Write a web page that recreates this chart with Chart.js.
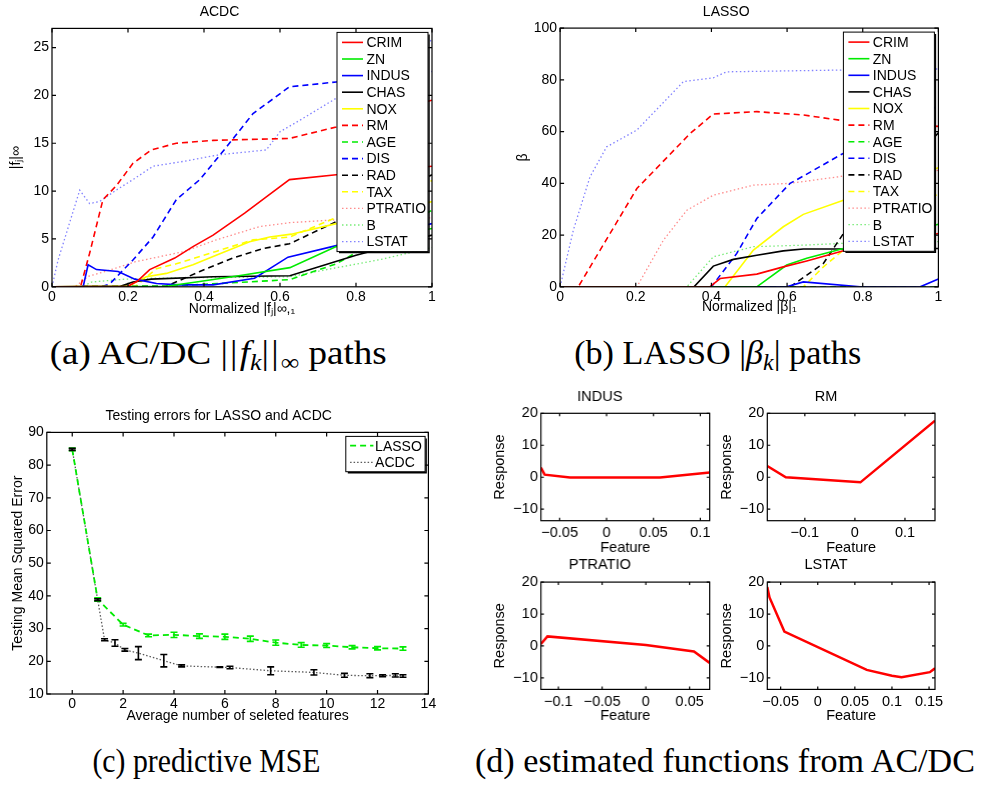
<!DOCTYPE html>
<html>
<head>
<meta charset="utf-8">
<script src="https://cdn.jsdelivr.net/npm/chart.js@4.4.1/dist/chart.umd.min.js"></script>
<style>
body { margin: 0; background: #fff; width: 982px; height: 785px; position: relative; overflow: hidden; }
.panel { position: absolute; }
.cap { position: absolute; font-family: 'Liberation Serif', 'DejaVu Serif', serif; font-size: 33px; line-height: 1; color: #000; text-align: center; white-space: nowrap; }
.cap span.t { display: inline-block; transform-origin: 50% 50%; }
.cap sub { font-size: 0.7em; vertical-align: -0.28em; line-height: 0; }
.cap .bars { letter-spacing: 2px; }
</style>
</head>
<body>
<div class="panel"><canvas id="cA"></canvas></div>
<div class="panel"><canvas id="cB"></canvas></div>
<div class="panel"><canvas id="cC"></canvas></div>
<div class="panel"><canvas id="cD1"></canvas></div>
<div class="panel"><canvas id="cD2"></canvas></div>
<div class="panel"><canvas id="cD3"></canvas></div>
<div class="panel"><canvas id="cD4"></canvas></div>

<div class="cap" data-w="337" style="left:18px; top:337px; width:400px;"><span class="t">(a) AC/DC <span class="bars">||</span><i>f</i><sub><i>k</i></sub><span class="bars">||</span><sub>∞</sub> paths</span></div>
<div class="cap" data-w="287" style="left:518px; top:337px; width:400px;"><span class="t">(b) LASSO |<i>β</i><sub><i>k</i></sub>| paths</span></div>
<div class="cap" data-w="228" style="left:6px; top:745px; width:400px;"><span class="t">(c) predictive MSE</span></div>
<div class="cap" data-w="500" style="left:475px; top:745px; width:500px;"><span class="t">(d) estimated functions from AC/DC</span></div>

<script>
// ---- data ----
const features = ['CRIM', 'ZN', 'INDUS', 'CHAS', 'NOX', 'RM', 'AGE', 'DIS', 'RAD', 'TAX', 'PTRATIO', 'B', 'LSTAT'];

// (a) ACDC paths: [normalized |f|_inf,1 , |f_j|_inf]
const acdcCRIM = [[0,0],[0.2,0.05],[0.225,0.6],[0.257,1.8],[0.323,3.0],[0.371,4.2],[0.424,5.4],[0.507,7.7],[0.564,9.4],[0.625,11.2],[0.748,11.7],[1,12.6]];
const acdcZN = [[0,0],[0.3,0.05],[0.38,0.5],[0.5,1.2],[0.626,2.0],[0.748,4.2],[1,6.1]];
const acdcINDUS = [[0,0],[0.082,0],[0.095,2.3],[0.117,1.8],[0.174,1.6],[0.218,0.8],[0.275,0.35],[0.336,0.2],[0.424,0.2],[0.533,0.9],[0.621,3.1],[0.748,4.3],[1,6.6]];
const acdcCHAS = [[0,0],[0.18,0.05],[0.213,0.5],[0.261,0.8],[0.424,1.05],[0.626,1.15],[0.8,3.3],[1,5.4]];
const acdcNOX = [[0,0],[0.2,0.05],[0.248,1.05],[0.301,1.4],[0.371,2.3],[0.432,3.3],[0.52,4.7],[0.573,5.2],[0.63,5.5],[0.748,6.6],[1,8.9]];
const acdcRM = [[0,0],[0.075,0],[0.099,3.5],[0.134,9.1],[0.17,10.6],[0.213,12.9],[0.261,14.3],[0.327,15.0],[0.424,15.3],[0.625,15.5],[0.748,16.7],[1,19.5]];
const acdcAGE = [[0,0],[0.3,0.05],[0.494,0.46],[0.626,0.75],[0.748,2.4],[1,8.0]];
const acdcDIS = [[0,0],[0.13,0],[0.152,0.3],[0.213,2.8],[0.266,5.2],[0.327,9.1],[0.389,11.2],[0.459,14.6],[0.529,18.1],[0.625,20.9],[0.748,21.4],[1,22.5]];
const acdcRAD = [[0,0],[0.3,0.05],[0.389,1.6],[0.476,3.0],[0.555,4.0],[0.625,4.5],[0.748,6.8],[1,11.7]];
const acdcTAX = [[0,0],[0.22,0.05],[0.275,1.9],[0.327,2.4],[0.432,3.7],[0.529,4.9],[0.625,5.2],[0.74,7.1],[1,11.1]];
const acdcPTRATIO = [[0,0],[0.06,0],[0.096,1.1],[0.14,1.6],[0.218,2.6],[0.349,3.7],[0.432,4.9],[0.547,6.3],[0.625,6.7],[0.748,7.0],[1,7.2]];
const acdcB = [[0,0],[0.08,0],[0.104,0.5],[0.192,0.8],[0.266,0.9],[0.625,1.05],[0.75,2.0],[0.87,2.9],[1,4.1]];
const acdcLSTAT = [[0,0],[0.016,2.8],[0.073,10.1],[0.099,8.7],[0.125,8.9],[0.169,10.1],[0.213,11.2],[0.266,12.6],[0.345,13.1],[0.441,13.8],[0.564,14.3],[0.6,16.2],[0.652,17.4],[0.748,19.7],[1,25.8]];

// (b) LASSO paths: [normalized |beta|_1 , beta]
const lassoCRIM = [[0,0],[0.396,0],[0.423,3.2],[0.52,4.9],[0.59,7.7],[0.652,10],[0.749,13.9],[1,20.6]];
const lassoZN = [[0,0],[0.52,0],[0.599,8.4],[0.652,11],[0.749,14.8],[1,24.2]];
const lassoINDUS = [[0,0],[0.599,0],[0.643,1.9],[0.793,0],[0.952,0],[1,3]];
const lassoCHAS = [[0,0],[0.354,0],[0.405,8],[0.458,10.6],[0.52,12.2],[0.59,13.9],[0.643,14.6],[0.749,14.6],[1,14.8]];
const lassoNOX = [[0,0],[0.436,0],[0.511,14.2],[0.59,23.2],[0.643,28],[0.749,33.5],[1,46]];
const lassoRM = [[0,0],[0.048,0],[0.203,38],[0.344,59.3],[0.405,66.8],[0.52,67.7],[0.643,66.4],[0.749,64.2],[1,62]];
const lassoAGE = [[0,0],[1,0]];
const lassoDIS = [[0,0],[0.4,0],[0.467,12.9],[0.52,26.4],[0.608,40],[0.643,42.8],[0.74,50.9],[1,70]];
const lassoRAD = [[0,0],[0.608,0],[0.696,9],[0.749,20.6],[1,59.5]];
const lassoTAX = [[0,0],[0.643,0],[0.696,7.7],[0.749,14.2],[1,36]];
const lassoPTRATIO = [[0,0],[0.203,0],[0.273,18],[0.335,29.6],[0.405,35.4],[0.511,39.3],[0.608,40],[0.749,42.8],[1,45]];
const lassoB = [[0,0],[0.335,0],[0.405,11.6],[0.511,15.5],[0.643,16.1],[0.749,16.8],[1,17.5]];
const lassoLSTAT = [[0,0],[0.035,21.9],[0.079,42.5],[0.123,54.1],[0.203,60.6],[0.326,79.3],[0.405,80.8],[0.44,83.1],[0.749,83.8],[1,84.2]];

// (c) testing MSE
const mseLassoX = [0, 1, 2, 3, 4, 5, 6, 7, 8, 9, 10, 11, 12, 13];
const mseLassoY = [84.8, 38.9, 31.2, 27.9, 28.1, 27.7, 27.5, 26.9, 25.7, 25.0, 24.8, 24.3, 24.0, 23.9];
const mseLassoErr = [0.4, 0.5, 0.4, 0.4, 0.8, 0.7, 0.8, 0.8, 0.8, 0.7, 0.6, 0.5, 0.5, 0.5];
const mseAcdcX = [0, 1, 1.27, 1.68, 2.07, 2.6, 3.6, 4.3, 5.8, 6.2, 7.8, 9.5, 10.7, 11.7, 12.2, 12.7, 13.0];
const mseAcdcY = [84.8, 38.8, 26.6, 25.6, 23.5, 22.5, 20.2, 18.6, 18.2, 18.1, 17.1, 16.6, 15.7, 15.6, 15.6, 15.7, 15.5];
const mseAcdcErr = [0.3, 0.3, 0.3, 1.0, 0.4, 2.0, 1.9, 0.3, 0.1, 0.4, 1.2, 0.8, 0.6, 0.6, 0.3, 0.5, 0.4];

// (d) estimated component functions
const indusX = [-0.07, -0.066, -0.039, 0.057, 0.11];
const indusY = [3.0, 0.8, -0.1, -0.1, 1.5];
const rmX = [-0.175, -0.138, 0.011, 0.16];
const rmY = [3.5, 0, -1.6, 17.7];
const ptratioX = [-0.12, -0.1125, 0, 0.055, 0.073];
const ptratioY = [0.6, 3.0, 0.3, -1.7, -5.3];
const lstatX = [-0.068, -0.065, -0.045, 0.066, 0.1, 0.113, 0.151, 0.158];
const lstatY = [18.5, 15.2, 4.5, -7.5, -9.3, -9.8, -8.2, -7.0];

// tick values
const pathXTicks = [0, 0.2, 0.4, 0.6, 0.8, 1];
const acdcYTicks = [0, 5, 10, 15, 20, 25];
const lassoYTicks = [0, 20, 40, 60, 80, 100];
const mseXTicks = [0, 2, 4, 6, 8, 10, 12, 14];
const mseYTicks = [10, 20, 30, 40, 50, 60, 70, 80, 90];
const respYTicks = [-10, 0, 10, 20];
const indusXTicks = [-0.05, 0, 0.05, 0.1];
const rmXTicks = [-0.1, 0, 0.1];
const ptratioXTicks = [-0.1, -0.05, 0, 0.05];
const lstatXTicks = [-0.05, 0, 0.05, 0.1, 0.15];

// ---- styles ----
Chart.defaults.font.family = "'Liberation Sans', Arial, sans-serif";
Chart.defaults.color = '#000';

const RED = 'rgb(255,0,0)', GREEN = 'rgb(0,235,0)', BLUE = 'rgb(0,0,255)', BLACK = 'rgb(0,0,0)', YELLOW = 'rgb(255,255,0)';
const featColor = [RED, GREEN, BLUE, BLACK, YELLOW, RED, GREEN, BLUE, BLACK, YELLOW, 'rgb(255,140,140)', 'rgb(120,235,120)', 'rgb(130,130,255)'];
const featDash = i => i < 5 ? [] : (i < 10 ? [6, 4] : [1.5, 2.5]);

const xy = pts => pts.map(p => ({ x: p[0], y: p[1] }));
const zip = (xs, ys) => xs.map((x, i) => ({ x: x, y: ys[i] }));
const fmt = v => String(v).replace('-', '\u2212');

const pathSets = arrs => arrs.map((a, i) => ({
	label: features[i],
	data: xy(a),
	borderColor: featColor[i],
	borderWidth: i < 10 ? 1.6 : 1.3,
	borderDash: featDash(i),
	pointRadius: 0,
	tension: 0
}));

// ---- plugins ----
const axesBox = {
	id: 'axesBox',
	afterDatasetsDraw(chart, args, o) {
		const ctx = chart.ctx, a = chart.chartArea, L = o.tick;
		const xs = chart.scales.x, ys = chart.scales.y;
		ctx.save();
		ctx.strokeStyle = '#000';
		ctx.lineWidth = 1.2;
		ctx.strokeRect(a.left, a.top, a.right - a.left, a.bottom - a.top);
		ctx.beginPath();
		xs.ticks.forEach(t => {
			const p = xs.getPixelForValue(t.value);
			ctx.moveTo(p, a.bottom); ctx.lineTo(p, a.bottom - L);
			ctx.moveTo(p, a.top); ctx.lineTo(p, a.top + L);
		});
		ys.ticks.forEach(t => {
			const p = ys.getPixelForValue(t.value);
			ctx.moveTo(a.left, p); ctx.lineTo(a.left + L, p);
			ctx.moveTo(a.right, p); ctx.lineTo(a.right - L, p);
		});
		ctx.stroke();
		ctx.restore();
	}
};

const boxLegend = {
	id: 'boxLegend',
	afterDraw(chart, args, o) {
		if (!o.show) return;
		const ctx = chart.ctx, a = chart.chartArea;
		const sets = chart.data.datasets;
		const x0 = a.right - o.right - o.width, y0 = a.top + o.top;
		const h = o.first * 2 + (sets.length - 1) * o.row;
		ctx.save();
		ctx.fillStyle = '#fff';
		ctx.fillRect(x0, y0, o.width, h);
		ctx.strokeStyle = '#000';
		ctx.lineWidth = 1;
		ctx.strokeRect(x0, y0, o.width, h);
		ctx.lineWidth = 1.5;
		ctx.beginPath();
		ctx.moveTo(x0 + o.width + 1, y0 + 2);
		ctx.lineTo(x0 + o.width + 1, y0 + h + 1);
		ctx.lineTo(x0 + 2, y0 + h + 1);
		ctx.stroke();
		ctx.font = o.size + "px 'Liberation Sans', Arial, sans-serif";
		ctx.textBaseline = 'middle';
		ctx.textAlign = 'left';
		sets.forEach((ds, i) => {
			const y = y0 + o.first + i * o.row;
			ctx.strokeStyle = ds.borderColor;
			ctx.lineWidth = ds.borderWidth;
			ctx.setLineDash(ds.borderDash || []);
			ctx.beginPath();
			ctx.moveTo(x0 + o.s0, y);
			ctx.lineTo(x0 + o.s1, y);
			ctx.stroke();
			ctx.setLineDash([]);
			ctx.fillStyle = '#000';
			ctx.fillText(ds.label, x0 + o.tx, y + 1);
		});
		ctx.restore();
	}
};

const errorBars = {
	id: 'errorBars',
	afterDatasetsDraw(chart, args, o) {
		if (!o.sets) return;
		const ctx = chart.ctx, xs = chart.scales.x, ys = chart.scales.y;
		o.sets.forEach(s => {
			ctx.save();
			ctx.strokeStyle = s.color;
			ctx.lineWidth = 1.6;
			s.x.forEach((xv, i) => {
				const px = xs.getPixelForValue(xv);
				const top = ys.getPixelForValue(s.y[i] + s.e[i]);
				const bot = ys.getPixelForValue(s.y[i] - s.e[i]);
				ctx.beginPath();
				ctx.moveTo(px, top); ctx.lineTo(px, bot);
				ctx.moveTo(px - o.cap, top); ctx.lineTo(px + o.cap, top);
				ctx.moveTo(px - o.cap, bot); ctx.lineTo(px + o.cap, bot);
				ctx.stroke();
			});
			ctx.restore();
		});
	}
};

// ---- layout + chart builder ----
// plot = [left, top, right, bottom] of the axes box on the page
const makeChart = (id, plot, cfg) => {
	const fs = cfg.fs, lh = fs * 1.2;
	const Wy = plot[0] - cfg.ylabX + lh / 2 + 1;
	const Ht = plot[1] - cfg.titleY + lh / 2 + 1;
	const Hx = cfg.xlabY - plot[3] + lh / 2 + 1;
	const pr = 14;
	const canvas = document.getElementById(id);
	const wrap = canvas.parentNode;
	wrap.style.left = (plot[0] - Wy) + 'px';
	wrap.style.top = (plot[1] - Ht) + 'px';
	wrap.style.width = (plot[2] - plot[0] + Wy + pr) + 'px';
	wrap.style.height = (plot[3] - plot[1] + Ht + Hx) + 'px';
	const font = { size: fs, weight: 'normal' };
	return new Chart(canvas, {
		type: 'line',
		data: { datasets: cfg.datasets },
		plugins: [axesBox, boxLegend, errorBars],
		options: {
			responsive: true,
			maintainAspectRatio: false,
			animation: false,
			events: [],
			layout: { autoPadding: false, padding: { left: 0, top: 0, right: pr, bottom: 0 } },
			plugins: {
				legend: { display: false },
				tooltip: { enabled: false },
				title: { display: true, text: cfg.title, color: '#000', font: font, padding: { top: 1, bottom: Ht - 1 - lh } },
				axesBox: { tick: cfg.tick },
				boxLegend: cfg.legend || { show: false },
				errorBars: cfg.errors || {}
			},
			scales: {
				x: {
					type: 'linear',
					min: cfg.xRange[0],
					max: cfg.xRange[1],
					afterFit: s => { s.height = Hx; },
					afterBuildTicks: s => { s.ticks = cfg.xTicks.map(v => ({ value: v })); },
					grid: { display: false, drawTicks: false },
					border: { display: false },
					ticks: { padding: cfg.xPad, color: '#000', font: font, callback: fmt, maxRotation: 0, autoSkip: false },
					title: { display: true, text: cfg.xLabel, color: '#000', font: font, padding: { top: 0, bottom: 1 } }
				},
				y: {
					type: 'linear',
					min: cfg.yRange[0],
					max: cfg.yRange[1],
					afterFit: s => { s.width = Wy; },
					afterBuildTicks: s => { s.ticks = cfg.yTicks.map(v => ({ value: v })); },
					grid: { display: false, drawTicks: false },
					border: { display: false },
					ticks: { padding: 3, color: '#000', font: font, callback: fmt, autoSkip: false },
					title: { display: true, text: cfg.yLabel, color: '#000', font: font, padding: { top: 1, bottom: 0 } }
				}
			}
		}
	});
};

const pathLegend = { show: true, right: 4, top: 4, width: 91, first: 10, row: 16.6, s0: 5, s1: 26, tx: 29.4, size: 14 };

makeChart('cA', [52.3, 28.3, 432.3, 286.7], {
	fs: 14, title: 'ACDC', titleY: 12.3, ylabX: 16.7, xlabY: 309, xPad: 2, tick: 4,
	xLabel: 'Normalized |fⱼ|∞,₁', yLabel: '|fⱼ|∞',
	xRange: [0, 1], yRange: [0, 27], xTicks: pathXTicks, yTicks: acdcYTicks,
	legend: pathLegend,
	datasets: pathSets([acdcCRIM, acdcZN, acdcINDUS, acdcCHAS, acdcNOX, acdcRM, acdcAGE, acdcDIS, acdcRAD, acdcTAX, acdcPTRATIO, acdcB, acdcLSTAT])
});

makeChart('cB', [560, 28, 938.3, 286.7], {
	fs: 14, title: 'LASSO', titleY: 12.3, ylabX: 523.3, xlabY: 307, xPad: 2, tick: 4,
	xLabel: 'Normalized |β|₁', yLabel: 'β',
	xRange: [0, 1], yRange: [0, 100], xTicks: pathXTicks, yTicks: lassoYTicks,
	legend: pathLegend,
	datasets: pathSets([lassoCRIM, lassoZN, lassoINDUS, lassoCHAS, lassoNOX, lassoRM, lassoAGE, lassoDIS, lassoRAD, lassoTAX, lassoPTRATIO, lassoB, lassoLSTAT])
});

makeChart('cC', [46.7, 432.7, 428.3, 694.3], {
	fs: 14, title: 'Testing errors for LASSO and ACDC', titleY: 416.7, ylabX: 18.3, xlabY: 716, xPad: 2, tick: 4,
	xLabel: 'Average number of seleted features', yLabel: 'Testing Mean Squared Error',
	xRange: [-1, 14], yRange: [10, 90], xTicks: mseXTicks, yTicks: mseYTicks,
	legend: { show: true, right: 3.3, top: 4, width: 79.3, first: 9.3, row: 16.7, s0: 4.3, s1: 27.6, tx: 29.3, size: 14 },
	errors: {
		cap: 3.5,
		sets: [
			{ x: mseLassoX, y: mseLassoY, e: mseLassoErr, color: GREEN },
			{ x: mseAcdcX, y: mseAcdcY, e: mseAcdcErr, color: BLACK }
		]
	},
	datasets: [
		{ label: 'LASSO', data: zip(mseLassoX, mseLassoY), borderColor: GREEN, borderWidth: 1.8, borderDash: [6, 4], pointRadius: 0, tension: 0 },
		{ label: 'ACDC', data: zip(mseAcdcX, mseAcdcY), borderColor: 'rgb(90,90,90)', borderWidth: 1.3, borderDash: [1.5, 2], pointRadius: 0, tension: 0 }
	]
});

const respLine = (xs, ys) => [{ label: 'f', data: zip(xs, ys), borderColor: RED, borderWidth: 2.5, pointRadius: 0, tension: 0 }];
const dCfg = { fs: 14.5, xPad: 4, tick: 3, xLabel: 'Feature', yLabel: 'Response', yRange: [-13.6, 20], yTicks: respYTicks };

makeChart('cD1', [541, 413.3, 709, 520.7], Object.assign({}, dCfg, {
	title: 'INDUS', titleY: 396.7, ylabX: 500, xlabY: 547.7,
	xRange: [-0.07, 0.11], xTicks: indusXTicks, datasets: respLine(indusX, indusY)
}));
makeChart('cD2', [767.3, 413.3, 935, 520.7], Object.assign({}, dCfg, {
	title: 'RM', titleY: 396.7, ylabX: 726.7, xlabY: 547.7,
	xRange: [-0.175, 0.16], xTicks: rmXTicks, datasets: respLine(rmX, rmY)
}));
makeChart('cD3', [541, 581.7, 709, 689], Object.assign({}, dCfg, {
	title: 'PTRATIO', titleY: 564.3, ylabX: 500, xlabY: 716,
	xRange: [-0.12, 0.073], xTicks: ptratioXTicks, datasets: respLine(ptratioX, ptratioY)
}));
makeChart('cD4', [767.3, 581.7, 935, 689], Object.assign({}, dCfg, {
	title: 'LSTAT', titleY: 564.3, ylabX: 726.7, xlabY: 716,
	xRange: [-0.068, 0.158], xTicks: lstatXTicks, datasets: respLine(lstatX, lstatY)
}));

// squeeze or stretch each caption to the width it has in the figure
document.querySelectorAll('.cap').forEach(c => {
	const t = c.querySelector('.t');
	const w = t.getBoundingClientRect().width;
	t.style.transform = 'scaleX(' + (parseFloat(c.dataset.w) / w) + ')';
});
</script>
</body>
</html>
